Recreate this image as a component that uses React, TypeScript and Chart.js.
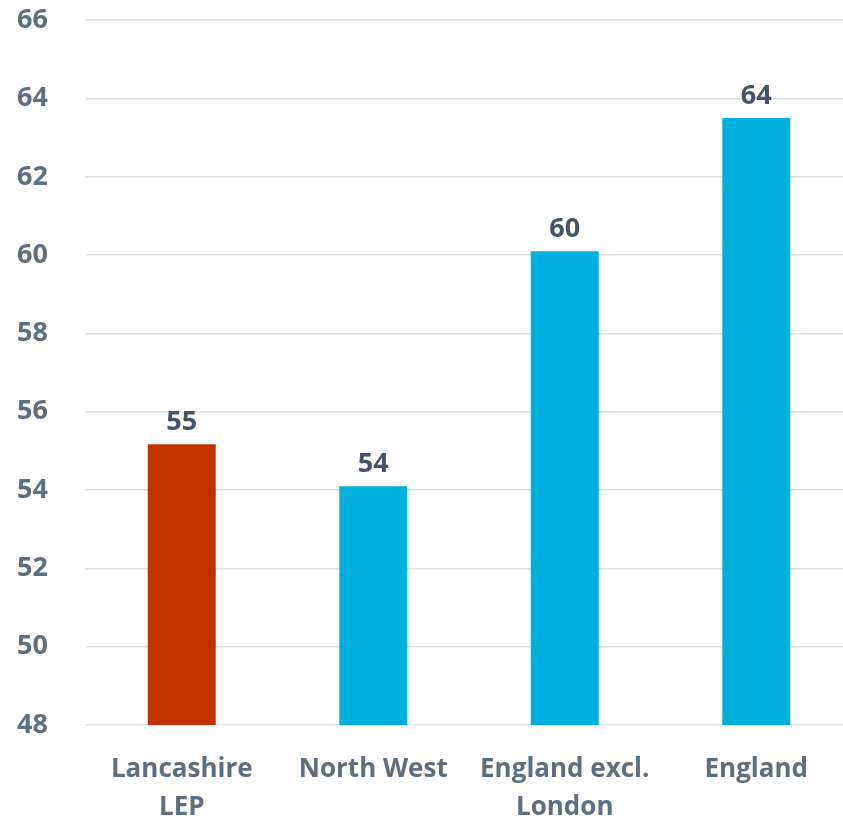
import React, { useEffect, useRef } from "react";
import { Chart, registerables } from "chart.js";

Chart.register(...registerables);

const categories: (string | string[])[] = [["Lancashire", "LEP"], "North West", ["England excl.", "London"], "England"];
const values: number[] = [55.17, 54.1, 60.1, 63.5];
const valueLabels: string[] = ["55", "54", "60", "64"];
const barColors: string[] = ["#C03200", "#00B0DC", "#00B0DC", "#00B0DC"];
const yMin = 48;
const yMax = 66;
const yStep = 2;

const FONT = "'Open Sans', sans-serif";

const dataLabelPlugin = {
  id: "dataLabels",
  afterDatasetsDraw(chart: any) {
    const ctx = chart.ctx;
    const meta = chart.getDatasetMeta(0);
    ctx.save();
    ctx.font = `bold 27px ${FONT}`;
    ctx.fillStyle = "#44546A";
    ctx.textAlign = "center";
    ctx.textBaseline = "alphabetic";
    meta.data.forEach((bar: any, i: number) => {
      ctx.fillText(valueLabels[i], bar.x, bar.y - 14);
    });
    ctx.restore();
  },
};

export default function App() {
  const ref = useRef<HTMLCanvasElement | null>(null);
  useEffect(() => {
    document.body.style.overflow = "hidden";
    const chart = new Chart(ref.current as HTMLCanvasElement, {
      type: "bar",
      data: {
        labels: categories,
        datasets: [
          {
            data: values,
            backgroundColor: barColors,
            borderWidth: 0,
            categoryPercentage: 1,
            barPercentage: 0.355,
          },
        ],
      },
      options: {
        responsive: false,
        animation: false,
        layout: { padding: { top: 0, left: 0, right: 0, bottom: 0 } },
        plugins: { legend: { display: false }, tooltip: { enabled: false } },
        scales: {
          x: {
            grid: { display: false },
            border: { display: false },
            ticks: {
              color: "#5B6E82",
              font: { family: FONT, size: 26, weight: "bold", lineHeight: 1.45 },
              padding: 18,
              maxRotation: 0,
              autoSkip: false,
            },
            afterFit(scale: any) {
              scale.height = 96;
            },
          },
          y: {
            min: yMin,
            max: yMax,
            ticks: {
              stepSize: yStep,
              color: "#5B6E82",
              font: { family: FONT, size: 27, weight: "bold" },
              padding: 38,
            },
            grid: { color: "#D9DEE5", lineWidth: 1.5, drawTicks: false },
            border: { display: false },
            afterFit(scale: any) {
              scale.width = 86;
            },
          },
        },
      },
      plugins: [dataLabelPlugin],
    });
    return () => chart.destroy();
  }, []);
  return (
    <div style={{ position: "fixed", left: 0, top: -34, width: 852, height: 855, background: "#fff" }}>
      <canvas ref={ref} width={852} height={855} />
    </div>
  );
}
